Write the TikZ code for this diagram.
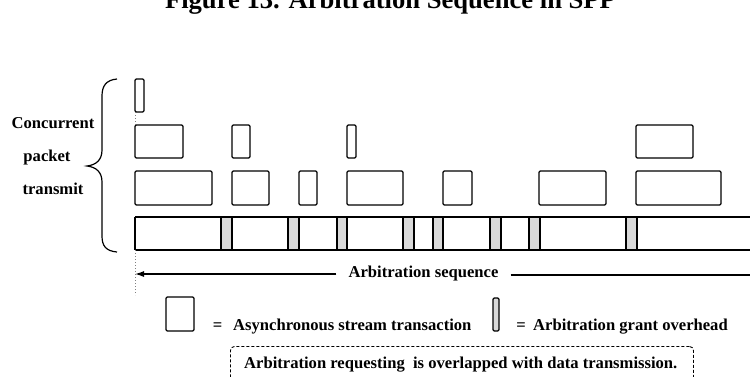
\documentclass[tikz,border=0pt]{standalone}
\usepackage{fontspec}
\setmainfont{Liberation Serif}
\usetikzlibrary{arrows.meta}
\begin{document}
\begin{tikzpicture}[x=1pt,y=-1pt,
  pkt/.style={draw=black, line width=1.3pt, rounded corners=1.2pt, inner sep=0pt, outer sep=0pt, anchor=north west, fill=white},
  gnt/.style={draw=black, line width=1.4pt, fill=gray!30, inner sep=0pt, outer sep=0pt, anchor=north west, minimum height=33pt},
  lbl/.style={font=\fontsize{16.6}{20}\selectfont\bfseries, inner sep=0pt},
  ttl/.style={font=\fontsize{26.6}{30}\selectfont\bfseries, inner sep=0pt},
  dotl/.style={draw=gray, dotted, line width=1pt},
  thk/.style={line width=2.6pt}]
\useasboundingbox (0,0) rectangle (750,376);
\clip (0,0) rectangle (750,376);

% title (cut at the top)
\node[ttl, anchor=base] (title) at (390.5,8) {Figure 13. Arbitration Sequence in SPP};

% brace and labels
\draw[line width=1.2pt] (117,79) .. controls (106,80) and (102,86) .. (102,96) -- (102,150)
  .. controls (102,160) and (96,165) .. (87,166)
  .. controls (96,167) and (102,172) .. (102,182) -- (102,236)
  .. controls (102,246) and (106,251) .. (117,252);
\node[lbl, anchor=base] (l1) at (53,128) {Concurrent};
\node[lbl, anchor=base] (l2) at (47,161) {packet};
\node[lbl, anchor=base] (l3) at (53,194) {transmit};

% row 0
\node[pkt, minimum width=9pt, minimum height=33pt] (r0a) at (135,79) {};
% row 1
\node[pkt, minimum width=48pt, minimum height=33pt] (r1a) at (135,125) {};
\node[pkt, minimum width=18pt, minimum height=33pt] (r1b) at (232,125) {};
\node[pkt, minimum width=9pt,  minimum height=33pt] (r1c) at (347,125) {};
\node[pkt, minimum width=57pt, minimum height=33pt] (r1d) at (636,125) {};
% row 2
\node[pkt, minimum width=77pt, minimum height=34pt] (r2a) at (135,171) {};
\node[pkt, minimum width=37pt, minimum height=34pt] (r2b) at (232,171) {};
\node[pkt, minimum width=18pt, minimum height=34pt] (r2c) at (299,171) {};
\node[pkt, minimum width=56pt, minimum height=34pt] (r2d) at (347,171) {};
\node[pkt, minimum width=29pt, minimum height=34pt] (r2e) at (443,171) {};
\node[pkt, minimum width=67pt, minimum height=34pt] (r2f) at (539,171) {};
\node[pkt, minimum width=85pt, minimum height=34pt] (r2g) at (636,171) {};

% bar
\coordinate (barTL) at (135,217);
\coordinate (barBL) at (135,250);
\coordinate (barTR) at (760,217);
\coordinate (barBR) at (760,250);
\draw[line width=1.1pt] (barTL) -- (barTR);
\draw[line width=2pt] (barBL) -- (barBR);
\draw[line width=1.3pt] (barTL) -- (barBL);

% grant stripes
\node[gnt, minimum width=11pt] (g1) at (221,217) {};
\node[gnt, minimum width=11pt] (g2) at (288,217) {};
\node[gnt, minimum width=10pt] (g3) at (337,217) {};
\node[gnt, minimum width=11pt] (g4) at (403,217) {};
\node[gnt, minimum width=10pt] (g5) at (433,217) {};
\node[gnt, minimum width=11pt] (g6) at (490,217) {};
\node[gnt, minimum width=11pt] (g7) at (529,217) {};
\node[gnt, minimum width=11pt] (g8) at (626,217) {};
\foreach \g in {g1,g2,g3,g5,g7,g8} \draw[thk] (\g.north east) -- (\g.south east);
\foreach \g in {g4,g6} \draw[thk] (\g.north west) -- (\g.south west);
\draw[line width=2pt] (barBL) -- (barBR);

% dotted guides
\draw[dotl] (r0a.south west) -- (r1a.north west);
\coordinate (dotEnd) at (135,295);
\draw[dotl] (barBL) -- (dotEnd);

% arbitration sequence arrow
\node[lbl, anchor=base, inner xsep=12pt] (seq) at (423.5,277) {Arbitration sequence};
\coordinate (arrL) at (135,274);
\coordinate (arrR) at (750,275);
\draw[line width=1.2pt, -{Latex[length=9pt,width=6pt]}] (seq.west |- arrL) -- (arrL);
\draw[line width=1.2pt] (seq.east |- arrR) -- (arrR);

% legend
\node[pkt, minimum width=28pt, minimum height=34pt] (leg1) at (166,297) {};
\node[lbl, anchor=base] (eq1) at (217.5,330) {=};
\node[lbl, anchor=base west] (legt1) at (233,330) {Asynchronous stream transaction};
\node[pkt, fill=gray!30, minimum width=6pt, minimum height=33pt] (leg2) at (493,298) {};
\node[lbl, anchor=base] (eq2) at (521,330) {=};
\node[lbl, anchor=base west] (legt2) at (533,330) {Arbitration grant overhead};

% note box
\node[draw=black, dash pattern=on 3pt off 2pt, line width=0.9pt, rounded corners=4pt, inner sep=0pt, anchor=north west, minimum width=463pt, minimum height=50pt] (note) at (230,346) {};
\node[lbl, anchor=base west] (notet) at (244,368) {Arbitration requesting\ \ is overlapped with data transmission.};
\end{tikzpicture}
\end{document}
